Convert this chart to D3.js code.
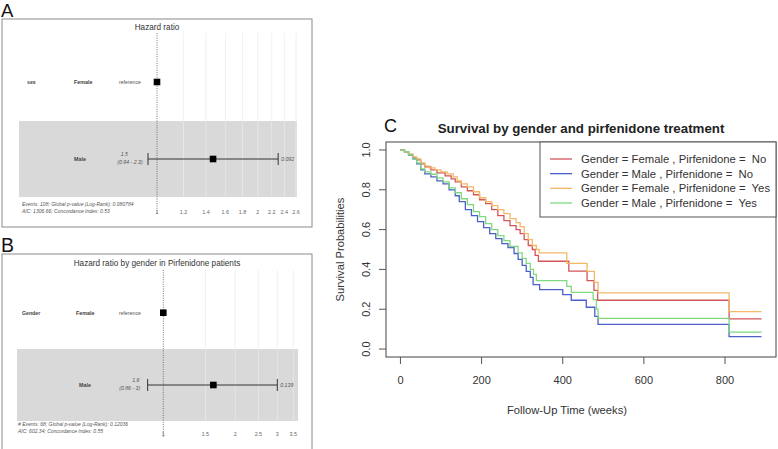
<!DOCTYPE html>
<html><head><meta charset="utf-8">
<script src="https://cdn.jsdelivr.net/npm/d3@7"></script>
<style>
body{margin:0;background:#fff}
svg{display:block}
text{font-family:"Liberation Sans",Arial,Helvetica,sans-serif}
</style>
</head><body>
<script>
// ---------- Panel C: Kaplan-Meier data (time in weeks, survival) ----------
const groupNames = [
  "Gender = Female , Pirfenidone =  No",
  "Gender = Male , Pirfenidone =  No",
  "Gender = Female , Pirfenidone =  Yes",
  "Gender = Male , Pirfenidone =  Yes"
];
const groupColors = ["#d2555a", "#4b60c8", "#f2b866", "#80d880"];
const femaleNo = [[0,1],[10,0.99],[20,0.975],[30,0.96],[40,0.95],[50,0.93],[60,0.915],[75,0.9],[90,0.885],[110,0.87],[125,0.855],[135,0.84],[150,0.815],[165,0.795],[180,0.775],[195,0.75],[210,0.73],[225,0.7],[240,0.67],[255,0.645],[270,0.62],[285,0.6],[295,0.58],[305,0.55],[315,0.52],[325,0.5],[332,0.47],[340,0.441],[415,0.391],[460,0.344],[477,0.295],[486,0.245],[810,0.152],[890,0.152]];
const maleNo = [[0,1],[10,0.99],[20,0.975],[30,0.955],[40,0.93],[50,0.9],[60,0.88],[75,0.865],[90,0.845],[105,0.83],[120,0.8],[135,0.77],[145,0.74],[160,0.7],[175,0.67],[190,0.64],[205,0.61],[220,0.58],[235,0.555],[250,0.53],[265,0.51],[280,0.48],[290,0.45],[300,0.42],[310,0.39],[320,0.36],[327,0.324],[343,0.298],[400,0.273],[421,0.245],[458,0.21],[479,0.164],[487,0.124],[810,0.062],[890,0.062]];
const femaleYes = [[0,1],[10,0.99],[20,0.98],[30,0.965],[40,0.955],[50,0.935],[60,0.92],[70,0.91],[85,0.9],[100,0.89],[115,0.88],[130,0.865],[140,0.845],[150,0.83],[165,0.815],[180,0.79],[195,0.76],[210,0.74],[225,0.72],[240,0.7],[255,0.68],[270,0.655],[285,0.635],[295,0.615],[305,0.58],[315,0.55],[325,0.52],[335,0.5],[342,0.483],[410,0.43],[460,0.39],[478,0.335],[487,0.282],[810,0.188],[890,0.188]];
const maleYes = [[0,1],[10,0.99],[20,0.975],[30,0.955],[40,0.935],[50,0.905],[60,0.89],[75,0.878],[90,0.86],[105,0.84],[120,0.81],[135,0.785],[150,0.755],[165,0.725],[180,0.69],[195,0.665],[210,0.63],[225,0.6],[240,0.57],[255,0.545],[270,0.515],[290,0.483],[300,0.455],[310,0.43],[320,0.4],[328,0.375],[335,0.344],[410,0.315],[421,0.285],[475,0.248],[483,0.2],[487,0.154],[810,0.085],[890,0.085]];
const kmSeries = [femaleNo, maleNo, femaleYes, maleYes];
const kmXTicks = [0, 200, 400, 600, 800];
const kmYTicks = [0, 0.2, 0.4, 0.6, 0.8, 1.0];

// ---------- Panel A: forest plot (sex) ----------
const aVariable = "sex";
const aLevels = ["Female", "Male"];
const aHR = [1, 1.47];
const aLow = [null, 0.94];
const aHigh = [null, 2.3];
const aHRLabel = ["reference", "1.5"];
const aCILabel = ["", "(0.94 - 2.3)"];
const aPLabel = ["", "0.092"];
const aTicks = [1, 1.2, 1.4, 1.6, 1.8, 2, 2.2, 2.4, 2.6];
const aFooter = ["Events: 108; Global p-value (Log-Rank): 0.080784", "AIC: 1306.66; Concordance Index: 0.53"];

// ---------- Panel B: forest plot (Gender, Pirfenidone patients) ----------
const bVariable = "Gender";
const bLevels = ["Female", "Male"];
const bHR = [1, 1.62];
const bLow = [null, 0.86];
const bHigh = [null, 3];
const bHRLabel = ["reference", "1.6"];
const bCILabel = ["", "(0.86 - 3)"];
const bPLabel = ["", "0.139"];
const bTicks = [1, 1.5, 2, 2.5, 3, 3.5];
const bFooter = ["# Events: 68; Global p-value (Log-Rank): 0.12036", "AIC: 602.34; Concordance Index: 0.55"];

const W = 778, H = 449;
const svg = d3.select("body").append("svg").attr("width", W).attr("height", H);

// ================= Forest plots =================
function forest(o) {
  const g = svg.append("g");
  // frame
  g.append("rect").attr("x", o.frame[0]).attr("y", o.frame[1])
    .attr("width", o.frame[2]).attr("height", o.frame[3])
    .attr("fill", "none").attr("stroke", "#8a8a8a").attr("stroke-width", 1);
  // panel letter
  svg.append("text").attr("x", 1).attr("y", o.letterY).attr("font-size", o.letterSize)
    .attr("fill", "#111").text(o.letter);
  // title
  g.append("text").attr("x", 157).attr("y", o.titleY).attr("text-anchor", "middle")
    .attr("font-size", 8.2).attr("fill", "#333").text(o.title);

  const x = d3.scaleLog().domain(o.domain).range(o.range);
  const y = d3.scalePoint().domain(o.levels).range(o.rows);

  // gray band for second row
  g.append("rect").attr("x", o.band[0]).attr("y", o.band[1])
    .attr("width", o.band[2] - o.band[0]).attr("height", o.band[3] - o.band[1])
    .attr("fill", "#d9d9d9");
  // grid lines
  g.selectAll(".grid").data(o.ticks.filter(t => t !== 1)).join("line")
    .attr("x1", d => x(d)).attr("x2", d => x(d))
    .attr("y1", o.gridTop).attr("y2", o.band[3])
    .attr("stroke", "#ececec").attr("stroke-width", 0.8).attr("opacity", 0.9);
  // reference dotted line
  g.append("line").attr("x1", x(1)).attr("x2", x(1))
    .attr("y1", o.gridTop).attr("y2", o.refBottom)
    .attr("stroke", "#555").attr("stroke-width", 0.8).attr("stroke-dasharray", "1,1.3");
  // tick labels
  g.selectAll(".tk").data(o.ticks).join("text")
    .attr("x", d => x(d)).attr("y", o.tickY).attr("text-anchor", "middle")
    .attr("font-size", 5.4).attr("fill", "#666").text(d => d);

  // variable name
  g.append("text").attr("x", o.varX).attr("y", y(o.levels[0]) + 2)
    .attr("font-size", 5.2).attr("font-weight", "bold").attr("fill", "#444").text(o.variable);
  // levels
  g.selectAll(".lv").data(o.levels).join("text")
    .attr("x", (d, i) => o.levelX[i]).attr("y", d => y(d) + 2)
    .attr("font-size", 5.4).attr("font-weight", "bold").attr("fill", "#444").text(d => d);
  // HR labels
  o.levels.forEach((lv, i) => {
    if (o.low[i] === null) {
      g.append("text").attr("x", 119).attr("y", y(lv) + 2).attr("font-size", 5.2)
        .attr("fill", "#555").text(o.hrLabel[i]);
    } else {
      g.append("text").attr("x", o.hrX).attr("y", y(lv) - 3).attr("text-anchor", "middle")
        .attr("font-size", 5.2).attr("font-style", "italic").attr("fill", "#555").text(o.hrLabel[i]);
      g.append("text").attr("x", o.ciX).attr("y", y(lv) + 5).attr("text-anchor", "middle")
        .attr("font-size", 5.2).attr("font-style", "italic").attr("fill", "#555").text(o.ciLabel[i]);
      // CI line + caps
      g.append("line").attr("x1", x(o.low[i])).attr("x2", x(o.high[i]))
        .attr("y1", y(lv)).attr("y2", y(lv)).attr("stroke", "#333").attr("stroke-width", 1);
      [o.low[i], o.high[i]].forEach(v => {
        g.append("line").attr("x1", x(v)).attr("x2", x(v))
          .attr("y1", y(lv) - 6).attr("y2", y(lv) + 6).attr("stroke", "#333").attr("stroke-width", 1);
      });
      g.append("text").attr("x", x(o.high[i]) + 3).attr("y", y(lv) + 2)
        .attr("font-size", 5.2).attr("font-style", "italic").attr("fill", "#555").text(o.pLabel[i]);
    }
  });
  // squares
  g.selectAll(".sq").data(o.hr).join("rect")
    .attr("x", d => x(d) - 3.3).attr("y", (d, i) => y(o.levels[i]) - 3.3)
    .attr("width", 6.6).attr("height", 6.6).attr("fill", "#000");
  // footer
  g.selectAll(".ft").data(o.footer).join("text")
    .attr("x", o.footX).attr("y", (d, i) => o.footY + i * 6.6)
    .attr("font-size", 5).attr("font-style", "italic").attr("fill", "#555").text(d => d);
}

forest({
  letter: "A", letterY: 17, letterSize: 18.5, frame: [2, 19, 310, 208], title: "Hazard ratio", titleY: 30,
  domain: [1, 2.6], range: [157, 296], levels: aLevels, rows: [82, 159],
  band: [19, 121, 297, 197], gridTop: 33, refBottom: 214, tickY: 213.5, ticks: aTicks,
  variable: aVariable, varX: 27, levelX: [74, 74], hrX: 124.3, ciX: 130,
  hr: aHR, low: aLow, high: aHigh, hrLabel: aHRLabel, ciLabel: aCILabel, pLabel: aPLabel,
  footer: aFooter, footX: 22, footY: 206
});
forest({
  letter: "B", letterY: 251.5, letterSize: 19.5, frame: [2, 254, 310, 210], title: "Hazard ratio by gender in Pirfenidone patients", titleY: 265.5,
  domain: [1, 3.5], range: [163.3, 293.3], levels: bLevels, rows: [312.7, 385],
  band: [17, 349, 298, 421], gridTop: 270, refBottom: 438, tickY: 435.5, ticks: bTicks,
  variable: bVariable, varX: 22, levelX: [76, 79], hrX: 135.8, ciX: 129.7,
  hr: bHR, low: bLow, high: bHigh, hrLabel: bHRLabel, ciLabel: bCILabel, pLabel: bPLabel,
  footer: bFooter, footX: 18, footY: 426
});

// ================= Panel C: KM curves =================
const box = {l: 386, r: 776, t: 142, b: 357};
const maxT = d3.max(kmSeries, s => d3.max(s, d => d[0]));
const x = d3.scaleLinear().domain([-0.04 * maxT, 1.04 * maxT]).range([box.l, box.r]);
const y = d3.scaleLinear().domain([-0.04, 1.04]).range([box.b, box.t]);
const gc = svg.append("g");

const line = d3.line().x(d => x(d[0])).y(d => y(d[1])).curve(d3.curveStepAfter);
kmSeries.forEach((s, i) => {
  gc.append("path").datum(s).attr("d", line).attr("fill", "none")
    .attr("stroke", groupColors[i]).attr("stroke-width", 1.3);
});

// box
gc.append("rect").attr("x", box.l).attr("y", box.t).attr("width", box.r - box.l)
  .attr("height", box.b - box.t).attr("fill", "none").attr("stroke", "#555").attr("stroke-width", 1.1);

// x axis
gc.selectAll(".xt").data(kmXTicks).join("line")
  .attr("x1", d => x(d)).attr("x2", d => x(d)).attr("y1", box.b).attr("y2", box.b + 7)
  .attr("stroke", "#555").attr("stroke-width", 1);
gc.selectAll(".xl").data(kmXTicks).join("text")
  .attr("x", d => x(d)).attr("y", box.b + 27).attr("text-anchor", "middle")
  .attr("font-size", 11).attr("fill", "#333").text(d => d);
// y axis
gc.selectAll(".yt").data(kmYTicks).join("line")
  .attr("x1", box.l - 7).attr("x2", box.l).attr("y1", d => y(d)).attr("y2", d => y(d))
  .attr("stroke", "#555").attr("stroke-width", 1);
gc.selectAll(".yl").data(kmYTicks).join("text")
  .attr("transform", d => `translate(${box.l - 16},${y(d)}) rotate(-90)`)
  .attr("text-anchor", "middle").attr("font-size", 11).attr("fill", "#333")
  .text(d => d.toFixed(1));

// axis titles
gc.append("text").attr("x", (box.l + box.r) / 2 - 14).attr("y", 414).attr("text-anchor", "middle")
  .attr("font-size", 11.2).attr("fill", "#333").text("Follow-Up Time (weeks)");
gc.append("text").attr("transform", `translate(344,${(box.t + box.b) / 2}) rotate(-90)`)
  .attr("text-anchor", "middle").attr("font-size", 11.2).attr("fill", "#333").text("Survival Probabilities");

// title & letter
gc.append("text").attr("x", 581).attr("y", 132.5).attr("text-anchor", "middle")
  .attr("font-size", 13.3).attr("font-weight", "bold").attr("fill", "#222")
  .text("Survival by gender and pirfenidone treatment");
gc.append("text").attr("x", 384).attr("y", 132).attr("font-size", 18).attr("fill", "#111").text("C");

// legend
const lg = gc.append("g");
lg.append("rect").attr("x", 540).attr("y", box.t).attr("width", box.r - 540).attr("height", 75)
  .attr("fill", "#fff").attr("stroke", "#555").attr("stroke-width", 1);
const legY = d3.scalePoint().domain(groupNames).range([159, 203]);
lg.selectAll(".ll").data(groupNames).join("line")
  .attr("x1", 550).attr("x2", 572).attr("y1", d => legY(d)).attr("y2", d => legY(d))
  .attr("stroke", (d, i) => groupColors[i]).attr("stroke-width", 1.3);
lg.selectAll(".lt").data(groupNames).join("text")
  .attr("x", 581).attr("y", d => legY(d) + 4).attr("font-size", 11.3).attr("fill", "#333")
  .style("white-space", "pre").text(d => d);
</script>
</body></html>
